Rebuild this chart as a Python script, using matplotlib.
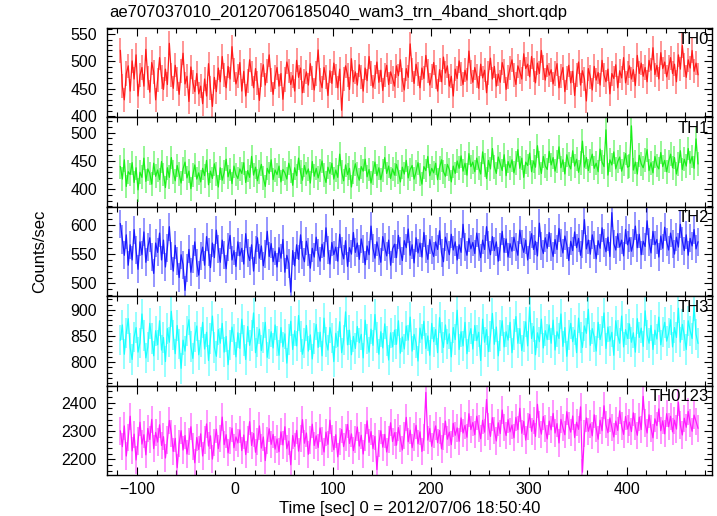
import matplotlib
matplotlib.use("Agg")
import matplotlib.pyplot as plt
from matplotlib.ticker import MultipleLocator
import numpy as np

# time grid of the light curve (2 s bins, first bin centre at -117 s)
T0 = -117.0
DT = 2.0

th0 = [
    520, 455, 430, 478, 492, 446, 501, 468, 512, 437, 475, 489, 455, 522, 470, 444, 498, 481, 430, 466,
    507, 472, 449, 486, 458, 533, 476, 451, 493, 468, 440, 482, 515, 459, 473, 427, 490, 462, 445, 478,
    441, 455, 423, 468, 437, 496, 452, 418, 471, 445, 488, 463, 509, 476, 452, 491, 468, 527, 484, 459,
    473, 498, 446, 482, 437, 465, 503, 478, 452, 487, 461, 429, 475, 494, 457, 482, 512, 466, 440, 471,
    489, 455, 478, 431, 467, 499, 482, 458, 474, 446, 502, 471, 488, 443, 465, 481, 457, 496, 470, 448,
    478, 521, 466, 452, 489, 471, 438, 483, 460, 497, 474, 452, 486, 411, 468, 492, 476, 449, 505, 463,
    481, 457, 494, 472, 446, 488, 465, 509, 478, 453, 471, 499, 462, 484, 447, 476, 493, 458, 481, 469,
    455, 492, 474, 503, 466, 448, 487, 471, 532, 484, 460, 495, 477, 452, 488, 469, 511, 483, 457, 474,
    498, 471, 446, 485, 463, 508, 479, 492, 455, 473, 437, 486, 469, 501, 477, 458, 484, 466, 519, 480,
    462, 489, 473, 451, 495, 470, 484, 443, 479, 506, 468, 491, 455, 477, 462, 498, 483, 449, 472, 488,
    503, 476, 458, 492, 481, 468, 514, 487, 495, 472, 509, 484, 461, 497, 478, 520, 489, 466, 493, 475,
    485, 459, 478, 496, 452, 474, 489, 445, 470, 493, 461, 482, 438, 476, 499, 457, 483, 468, 428, 487,
    472, 448, 491, 466, 480, 457, 502, 475, 463, 486, 441, 478, 469, 494, 452, 483, 470, 507, 461, 479,
    492, 468, 485, 456, 511, 478, 497, 473, 489, 463, 502, 484, 525, 476, 493, 468, 516, 487, 499, 472,
    489, 507, 478, 495, 463, 512, 486, 529, 494, 471, 503, 488, 520, 482, 497, 476,
]

th1 = [
    440, 418, 452, 405, 431, 426, 447, 412, 438, 399, 430, 421, 455, 414, 436, 428, 409, 446, 423, 434,
    417, 449, 426, 403, 438, 421, 456, 430, 415, 442, 427, 411, 436, 448, 420, 432, 401, 425, 443, 418,
    429, 413, 437, 424, 451, 408, 432, 419, 445, 427, 404, 438, 416, 430, 453, 422, 435, 410, 441, 426,
    419, 436, 428, 447, 412, 433, 421, 458, 425, 439, 415, 431, 444, 420, 405, 437, 428, 452, 417, 434,
    426, 441, 413, 435, 429, 418, 446, 432, 407, 438, 424, 455, 430, 416, 442, 427, 436, 411, 449, 423,
    437, 420, 433, 450, 425, 412, 439, 428, 446, 418, 434, 421, 462, 431, 415, 443, 426, 437, 404, 430,
    445, 427, 416, 440, 432, 453, 422, 435, 411, 429, 448, 424, 438, 417, 433, 456, 428, 441, 419, 436,
    425, 444, 430, 413, 439, 427, 451, 420, 435, 442, 418, 431, 447, 426, 409, 440, 433, 458, 424, 437,
    429, 446, 417, 438, 452, 431, 423, 444, 435, 413, 441, 428, 450, 437, 459, 432, 446, 425, 463, 440,
    448, 431, 455, 438, 427, 466, 443, 419, 451, 436, 472, 440, 428, 457, 445, 433, 461, 424, 449, 438,
    452, 429, 446, 470, 437, 455, 421, 448, 442, 464, 431, 450, 439, 477, 446, 428, 458, 441, 435, 467,
    443, 456, 432, 449, 475, 438, 452, 427, 461, 444, 436, 468, 441, 453, 430, 447, 485, 439, 456, 433,
    450, 462, 437, 446, 431, 471, 448, 440, 505, 425, 452, 443, 466, 436, 449, 457, 432, 445, 463, 439,
    441, 512, 434, 448, 427, 460, 445, 438, 452, 470, 433, 447, 429, 458, 442, 436, 465, 440, 451, 431,
    449, 462, 438, 456, 427, 444, 468, 435, 453, 441, 472, 446, 458, 437, 489, 445,
]

th2 = [
    602, 575, 548, 583, 531, 566, 540, 592, 557, 524, 571, 549, 588, 536, 562, 578, 545, 517, 569, 553,
    586, 540, 574, 528, 561, 597, 547, 521, 565, 538, 510, 549, 532, 488, 526, 558, 519, 542, 571, 535,
    514, 547, 562, 531, 580, 553, 527, 569, 544, 591, 558, 536, 574, 549, 525, 563, 582, 540, 556, 529,
    571, 547, 560, 533, 585, 552, 539, 566, 521, 557, 578, 543, 564, 530, 551, 589, 546, 568, 537, 555,
    528, 561, 543, 575, 519, 548, 534, 485, 556, 530, 566, 541, 583, 549, 537, 572, 553, 526, 560, 545,
    579, 552, 538, 567, 546, 595, 557, 533, 570, 549, 562, 538, 584, 556, 542, 573, 529, 561, 550, 587,
    553, 569, 541, 576, 558, 532, 564, 549, 598, 560, 543, 571, 555, 536, 580, 562, 547, 574, 531, 559,
    567, 544, 582, 556, 539, 573, 561, 593, 548, 566, 535, 578, 552, 569, 545, 587, 559, 541, 575, 557,
    546, 571, 558, 590, 552, 537, 579, 563, 549, 584, 557, 571, 540, 566, 553, 601, 562, 548, 577, 559,
    570, 551, 586, 563, 544, 574, 558, 597, 565, 549, 580, 556, 571, 538, 562, 589, 553, 576, 545, 568,
    555, 579, 562, 548, 591, 567, 553, 574, 540, 566, 585, 558, 572, 547, 603, 564, 551, 578, 560, 587,
    563, 546, 575, 558, 594, 569, 552, 581, 565, 539, 572, 556, 588, 561, 577, 548, 567, 609, 559, 574,
    550, 583, 566, 542, 573, 560, 595, 569, 554, 579, 546, 621, 568, 557, 585, 562, 574, 547, 592, 566,
    578, 555, 569, 598, 561, 584, 549, 572, 563, 607, 570, 552, 589, 566, 575, 545, 581, 560, 596, 571,
    557, 586, 568, 550, 579, 562, 601, 573, 556, 583, 548, 577, 564, 592, 559, 571,
]

th3 = [
    842, 871, 815, 856, 883, 827, 805, 848, 866, 819, 837, 892, 851, 808, 829, 874, 845, 812, 860, 833,
    879, 823, 847, 801, 864, 838, 897, 852, 816, 870, 834, 788, 842, 821, 859, 881, 830, 807, 848, 869,
    814, 839, 876, 825, 857, 803, 845, 888, 828, 811, 862, 836, 874, 819, 849, 795, 833, 867, 843, 810,
    856, 826, 882, 841, 805, 868, 832, 851, 894, 818, 838, 863, 822, 847, 876, 809, 835, 858, 827, 871,
    840, 813, 866, 829, 854, 798, 843, 878, 824, 860, 831, 889, 849, 815, 836, 870, 821, 852, 806, 845,
    872, 828, 857, 812, 884, 839, 823, 866, 846, 801, 855, 830, 877, 818, 842, 896, 833, 861, 814, 849,
    826, 868, 837, 853, 808, 880, 844, 819, 863, 832, 891, 847, 815, 858, 827, 873, 840, 804, 856, 829,
    861, 834, 879, 817, 848, 825, 869, 842, 886, 821, 853, 837, 802, 865, 844, 878, 826, 850, 813, 874,
    839, 862, 818, 885, 847, 828, 871, 835, 854, 810, 866, 843, 899, 824, 858, 831, 876, 816, 848, 864,
    825, 870, 841, 857, 803, 882, 838, 862, 820, 849, 893, 834, 867, 812, 851, 879, 829, 858, 842, 876,
    818, 853, 887, 836, 864, 822, 849, 877, 831, 905, 845, 868, 814, 856, 839, 882, 827, 860, 843, 871,
    836, 880, 823, 858, 845, 892, 830, 866, 811, 852, 874, 839, 861, 818, 884, 847, 828, 869, 855, 901,
    832, 864, 848, 821, 876, 843, 859, 894, 826, 867, 840, 857, 813, 879, 851, 836, 888, 829, 862, 845,
    873, 838, 856, 819, 883, 847, 865, 830, 898, 852, 836, 870, 824, 861, 844, 886, 833, 858, 876, 840,
    855, 881, 829, 866, 847, 903, 838, 872, 851, 824, 879, 860, 845, 908, 853, 836,
]

th0123 = [
    2300, 2245, 2318, 2212, 2276, 2352, 2230, 2289, 2198, 2265, 2331, 2254, 2287, 2216, 2309, 2270, 2341, 2238, 2295, 2261,
    2322, 2249, 2280, 2205, 2268, 2337, 2292, 2228, 2274, 2171, 2256, 2301, 2233, 2284, 2219, 2262, 2315, 2246, 2188, 2277,
    2235, 2290, 2212, 2268, 2325, 2247, 2283, 2201, 2259, 2306, 2238, 2274, 2349, 2252, 2287, 2223, 2266, 2310, 2241, 2279,
    2258, 2304, 2231, 2286, 2217, 2270, 2333, 2249, 2291, 2225, 2262, 2318, 2240, 2279, 2196, 2266, 2308, 2253, 2288, 2236,
    2272, 2227, 2297, 2251, 2315, 2238, 2264, 2181, 2284, 2246, 2302, 2229, 2273, 2340, 2257, 2293, 2218, 2268, 2324, 2249,
    2283, 2242, 2311, 2265, 2226, 2296, 2253, 2338, 2274, 2234, 2287, 2209, 2263, 2305, 2245, 2278, 2323, 2256, 2290, 2231,
    2269, 2314, 2247, 2285, 2219, 2276, 2336, 2260, 2298, 2238, 2281, 2164, 2257, 2301, 2243, 2288, 2226, 2271, 2329, 2263,
    2294, 2250, 2312, 2273, 2233, 2285, 2348, 2262, 2303, 2241, 2279, 2320, 2255, 2297, 2228, 2276, 2436, 2268, 2309, 2246,
    2287, 2318, 2259, 2302, 2237, 2281, 2335, 2271, 2296, 2252, 2327, 2285, 2311, 2264, 2346, 2293, 2320, 2278, 2361, 2305,
    2330, 2287, 2352, 2309, 2273, 2338, 2296, 2411, 2316, 2281, 2347, 2302, 2265, 2329, 2291, 2374, 2313, 2284, 2340, 2297,
    2321, 2276, 2348, 2305, 2380, 2292, 2334, 2268, 2316, 2359, 2299, 2337, 2281, 2394, 2322, 2289, 2351, 2308, 2272, 2335,
    2304, 2362, 2293, 2326, 2258, 2341, 2312, 2287, 2368, 2319, 2296, 2353, 2277, 2331, 2306, 2385, 2155, 2290, 2346, 2299,
    2325, 2283, 2357, 2310, 2271, 2338, 2301, 2389, 2322, 2294, 2346, 2312, 2279, 2335, 2302, 2371, 2318, 2288, 2351, 2307,
    2331, 2298, 2364, 2316, 2285, 2349, 2305, 2422, 2328, 2293, 2357, 2310, 2276, 2343, 2319, 2378, 2301, 2336, 2290, 2361,
    2315, 2352, 2297, 2338, 2307, 2401, 2321, 2286, 2345, 2313, 2369, 2328, 2299, 2356, 2334, 2310,
]

names = ["TH0", "TH1", "TH2", "TH3", "TH0123"]
series = [th0, th1, th2, th3, th0123]
errors = [22, 21, 24, 29, 48]
colors = ["#ff1a1a", "#1aee1a", "#1a1aff", "#1affff", "#ff1aff"]
ylims = [(398, 561), (369, 527), (478, 631), (755, 926), (2145, 2460)]
majors = [50, 50, 50, 50, 100]
minors = [10, 10, 10, 10, 20]

plt.rcParams['font.family'] = ['Liberation Sans', 'DejaVu Sans']
plt.rcParams['font.size'] = 11.5

fig = plt.figure(figsize=(7.17, 5.16), dpi=100)

left = 106.7 / 717
width = (711.7 - 106.7) / 717
top_px = 28.0
panel_px = 89.4

axes = []
for k in range(5):
    y_top = top_px + k * panel_px
    ax = fig.add_axes([left, 1 - (y_top + panel_px) / 516, width, panel_px / 516])
    y = np.array(series[k], dtype=float)
    t = T0 + DT * np.arange(len(y))
    ax.errorbar(t, y, yerr=errors[k], fmt='none', ecolor=colors[k], alpha=0.5, elinewidth=1.3)
    ax.plot(t, y, color=colors[k], lw=0.9)
    ax.set_xlim(-131, 487)
    ax.set_ylim(*ylims[k])
    ax.xaxis.set_major_locator(MultipleLocator(100))
    ax.xaxis.set_minor_locator(MultipleLocator(20))
    ax.yaxis.set_major_locator(MultipleLocator(majors[k]))
    ax.yaxis.set_minor_locator(MultipleLocator(minors[k]))
    ax.tick_params(which='both', direction='in', top=True, right=True, width=0.8)
    ax.tick_params(which='major', length=6, pad=7)
    ax.tick_params(which='minor', length=3.5)
    ax.tick_params(axis='x', which='major', pad=5)
    for s in ax.spines.values():
        s.set_linewidth(1.0)
    if k < 4:
        ax.tick_params(labelbottom=False)
    ax.text(0.995, 0.96, names[k], transform=ax.transAxes, ha='right', va='top', fontsize=12)
    axes.append(ax)

fig.text(109 / 717, 1 - 12 / 516, "ae707037010_20120706185040_wam3_trn_4band_short.qdp",
         ha='left', va='center', fontsize=12)
fig.text(40 / 717, 1 - 251 / 516, "Counts/sec", rotation=90, ha='center', va='center', fontsize=12)
fig.text(410 / 717, 1 - 508 / 516, "Time [sec] 0 = 2012/07/06 18:50:40", ha='center', va='center',
         fontsize=12)

fig.savefig("out.png", dpi=100)
